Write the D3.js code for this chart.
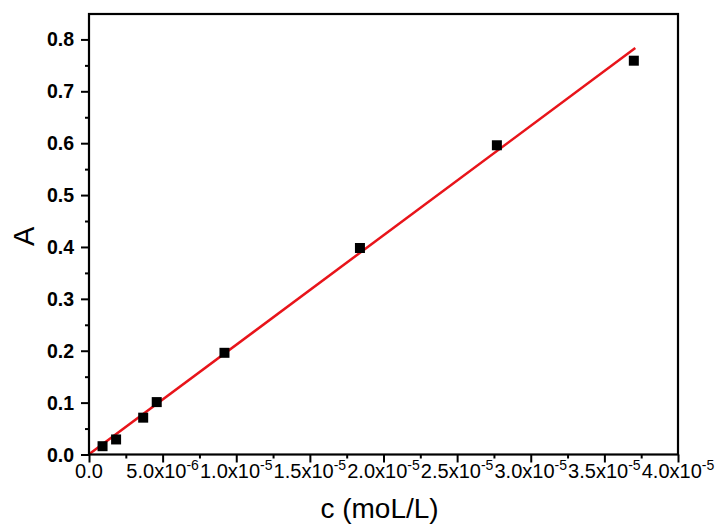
<!DOCTYPE html>
<html><head><meta charset="utf-8">
<script src="https://cdn.jsdelivr.net/npm/d3@7"></script>
<style>body{margin:0;background:#fff}svg{display:block}text{font-family:"Liberation Sans",Arial,sans-serif}</style>
</head><body><svg id="c" width="722" height="527"></svg>
<script>
const concentration = [0.92e-6, 1.84e-6, 3.68e-6, 4.6e-6, 9.2e-6, 18.4e-6, 27.7e-6, 37.0e-6];
const absorbance = [0.016, 0.029, 0.071, 0.101, 0.196, 0.398, 0.596, 0.759];
const fitSlope = 21100;
const fitIntercept = 0.0005;
const fitRange = [0, 3.71e-5];
const xTicks = [0, 5e-6, 1e-5, 1.5e-5, 2e-5, 2.5e-5, 3e-5, 3.5e-5, 4e-5];
const xTickMant = ["0.0", "5.0", "1.0", "1.5", "2.0", "2.5", "3.0", "3.5", "4.0"];
const xTickExp = ["", "-6", "-5", "-5", "-5", "-5", "-5", "-5", "-5"];
const yTicks = [0, 0.1, 0.2, 0.3, 0.4, 0.5, 0.6, 0.7, 0.8];
const xLabel = "c (moL/L)";
const yLabel = "A";

const svg = d3.select("#c");
const L = 89, R = 678, T = 14, B = 454.5;
const x = d3.scaleLinear().domain([0, 4e-5]).range([L, R]);
const y = d3.scaleLinear().domain([0, 0.849]).range([B, T]);

const xMinor = d3.range(0, 8).map(i => (i + 0.5) * 5e-6);
const yMinor = d3.range(0, 9).map(i => (i + 0.5) * 0.1).filter(v => v < 0.849);

const gx = svg.append("g").attr("transform", `translate(0,${B})`);
gx.call(d3.axisBottom(x).tickValues(xTicks).tickSize(8).tickFormat(""));
gx.append("g").call(d3.axisBottom(x).tickValues(xMinor).tickSize(4).tickFormat(""));
gx.selectAll("path.domain").remove();
gx.selectAll("line").attr("stroke", "#000").attr("stroke-width", 2);

const gy = svg.append("g").attr("transform", `translate(${L},0)`);
gy.call(d3.axisLeft(y).tickValues(yTicks).tickSize(8).tickFormat(""));
gy.append("g").call(d3.axisLeft(y).tickValues(yMinor).tickSize(4).tickFormat(""));
gy.selectAll("path.domain").remove();
gy.selectAll("line").attr("stroke", "#000").attr("stroke-width", 2);

svg.append("g").selectAll("text").data(yTicks).join("text")
  .attr("x", L - 15).attr("y", d => y(d)).attr("dy", "0.36em")
  .attr("text-anchor", "end").attr("font-size", 19.5).attr("font-weight", "bold")
  .text(d => d3.format(".1f")(d));

const xl = svg.append("g").selectAll("text").data(xTicks).join("text")
  .attr("x", d => x(d)).attr("y", B + 23)
  .attr("text-anchor", "middle").attr("font-size", 20);
xl.each(function(d, i) {
  const t = d3.select(this);
  if (xTickExp[i] === "") { t.text(xTickMant[i]); return; }
  t.append("tspan").text(xTickMant[i] + "x10");
  t.append("tspan").attr("font-size", 14).attr("dy", -8).text(xTickExp[i]);
});

svg.append("text").attr("x", (L + R) / 2 - 4).attr("y", 518).attr("text-anchor", "middle")
  .attr("font-size", 28).text(xLabel);
svg.append("text").attr("transform", `translate(34,${(T + B) / 2 + 2}) rotate(-90)`)
  .attr("text-anchor", "middle").attr("font-size", 29).text(yLabel);

svg.append("line")
  .attr("x1", x(fitRange[0])).attr("y1", y(fitSlope * fitRange[0] + fitIntercept))
  .attr("x2", x(fitRange[1])).attr("y2", y(fitSlope * fitRange[1] + fitIntercept))
  .attr("stroke", "#e8141a").attr("stroke-width", 2.5);

svg.append("g").selectAll("rect").data(concentration).join("rect")
  .attr("x", (d) => x(d) - 5).attr("y", (d, i) => y(absorbance[i]) - 5)
  .attr("width", 10).attr("height", 10).attr("fill", "#000");

svg.append("rect").attr("x", L).attr("y", T).attr("width", R - L).attr("height", B - T)
  .attr("fill", "none").attr("stroke", "#000").attr("stroke-width", 2.2);
</script></body></html>
